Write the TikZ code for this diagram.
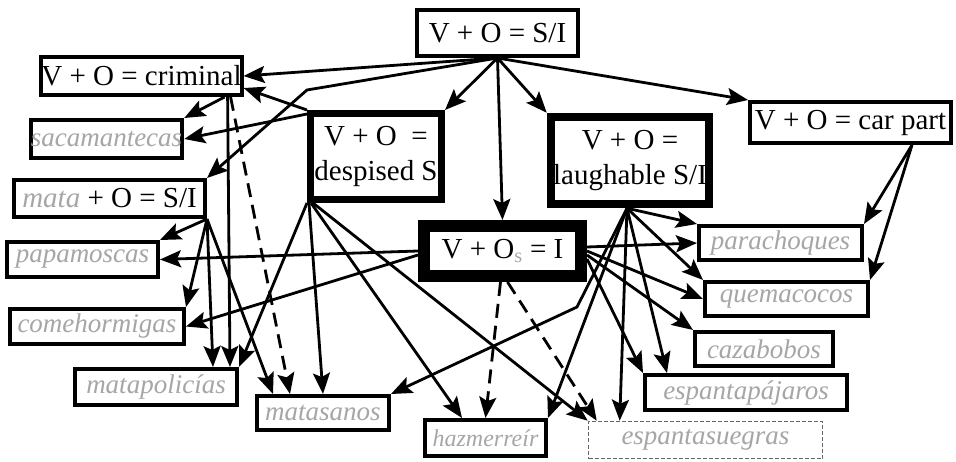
\documentclass[tikz,border=0pt]{standalone}
\usepackage{fontspec}
\setmainfont{Liberation Serif}
\usetikzlibrary{arrows.meta,calc}
\begin{document}
\begin{tikzpicture}[x=1pt,y=-1pt,
 base/.style={draw, fill=white, inner sep=0pt, font=\fontsize{29}{35}\selectfont, align=center},
 b3/.style={base, line width=4pt},
 b5/.style={base, line width=7pt},
 b6/.style={base, line width=8.5pt},
 b9/.style={base, line width=12pt},
 gbox/.style={b3, font=\fontsize{27}{30}\selectfont\itshape, text=black!35},
 dbox/.style={base, line width=1.6pt, draw=black!60, dash pattern=on 4pt off 2pt, font=\fontsize{27}{30}\selectfont\itshape, text=black!35},
 sz/.style 2 args={minimum width=#1pt, minimum height=#2pt},
 arr/.style={line width=2.8pt, -{Stealth[length=21pt,width=17pt,inset=4pt]}},
 darr/.style={arr, dash pattern=on 14pt off 8pt}
]
\useasboundingbox (0,0) rectangle (956,462);
% nodes
\node[b3, sz={161}{46}] (top) at (497.5,33) {V + O = S/I};
\node[b3, sz={199}{38}] (crim) at (141.5,76) {V + O = criminal};
\node[gbox, sz={149}{38}] (abr) at (106.5,139) {sacamantecas};
\node[b3, sz={191}{37}] (mata) at (109.5,198.5) {{\itshape\color{black!35}mata} + O = S/I};
\node[b5, sz={131}{86}] (desp) at (376,156.5) {V + O \ =\\despised S};
\node[b6, sz={158}{87}] (laugh) at (630,160.5) {V + O =\\laughable S/I};
\node[b3, sz={201}{41}] (car) at (850.5,122.5) {V + O = car part};
\node[b9, sz={157}{50}] (vo) at (502.5,251) {V + O\textsubscript{\color{black!35}s} = I};
\node[gbox, sz={163}{34}] (limpia) at (780.5,243) {parachoques};
\node[gbox, sz={163}{34}] (quema) at (786.5,299) {quemacocos};
\node[gbox, sz={138}{34}] (caza) at (764,349) {cazabobos};
\node[gbox, sz={202}{35}] (espanta) at (746,392.5) {espantapájaros};
\node[dbox, sz={234}{37}] (dbx) at (705.5,440) {espantasuegras};
\node[gbox, sz={121}{36}, font=\fontsize{24}{28}\selectfont\itshape] (hazme) at (485.5,438) {hazmerreír};
\node[gbox, sz={132}{34}] (matasanos) at (323,413) {matasanos};
\node[gbox, sz={162}{36}] (matapol) at (156,387) {matapolicías};
\node[gbox, sz={174}{35}] (comeh) at (97,326.5) {comehormigas};
\node[gbox, sz={151}{35}] (papam) at (82.5,259.5) {papamoscas};
% bend points
\coordinate (bA) at (307,90);
\coordinate (bB) at (577,307);
% from top
\draw[arr] (top.south) -- (crim.east);
\draw[arr] (top.south) -- (bA) -- (mata.north east);
\draw[arr] (top.south) -- (desp.north east);
\draw[arr] (top.south) -- (vo.north);
\draw[arr] (top.south) -- (laugh.north west);
\draw[arr] (top.south) -- (car.north west);
% from crim
\draw[arr] ([xshift=-19pt]crim.south east) -- (abr.north east);
\draw[arr] ([xshift=-16pt]crim.south east) -- ([xshift=-9pt]matapol.north east);
\draw[darr] ([xshift=-13pt]crim.south east) -- ([xshift=35pt]matasanos.north west);
% from desp
\draw[arr] (desp.north west) -- ([yshift=-12pt]crim.east);
\draw[arr] ([yshift=-4pt]desp.north west) -- (abr.east);
\draw[arr] (desp.south west) -- (matapol.north east);
\draw[arr] ([xshift=2pt]desp.south west) -- (matasanos.north);
\draw[arr] ([xshift=4pt]desp.south west) -- ([xshift=39pt]hazme.north west);
\draw[arr] ([xshift=6pt]desp.south west) -- (dbx.north west);
% from mata
\draw[arr] (mata.south east) -- (papam.north east);
\draw[arr] (mata.south east) -- (comeh.north east);
\draw[arr] (mata.south east) -- ([xshift=-26pt]matapol.north east);
\draw[arr] (mata.south east) -- ([xshift=18pt]matasanos.north west);
% from vo
\draw[arr] (vo.west) -- (papam.east);
\draw[arr] ([yshift=-4pt]vo.west) -- (comeh.east);
\draw[darr] ([xshift=-2pt]vo.south) -- (hazme.north);
\draw[darr] ([xshift=5pt]vo.south) -- ([xshift=9pt]dbx.north west);
\draw[arr] ([yshift=4pt]vo.east) -- (limpia.west);
\draw[arr] (vo.east) -- (quema.west);
\draw[arr] ([yshift=-4pt]vo.east) -- (caza.north west);
\draw[arr] ([yshift=-8pt]vo.east) -- (espanta.north west);
% from laugh
\draw[arr] ([xshift=-3pt]laugh.south) -- (limpia.north west);
\draw[arr] ([xshift=-3pt]laugh.south) -- (quema.north west);
\draw[arr] ([xshift=-3pt]laugh.south) -- ([xshift=24pt]espanta.north west);
\draw[arr] ([xshift=-3pt]laugh.south) -- ([xshift=32pt]dbx.north west);
\draw[arr] ([xshift=-3pt]laugh.south) -- (hazme.north east);
\draw[arr] ([xshift=-3pt]laugh.south) -- (bB) -- (matasanos.north east);
% from car
\draw[arr] ([xshift=-41pt]car.south east) -- (limpia.north east);
\draw[arr] ([xshift=-41pt]car.south east) -- (quema.north east);
\end{tikzpicture}
\end{document}
